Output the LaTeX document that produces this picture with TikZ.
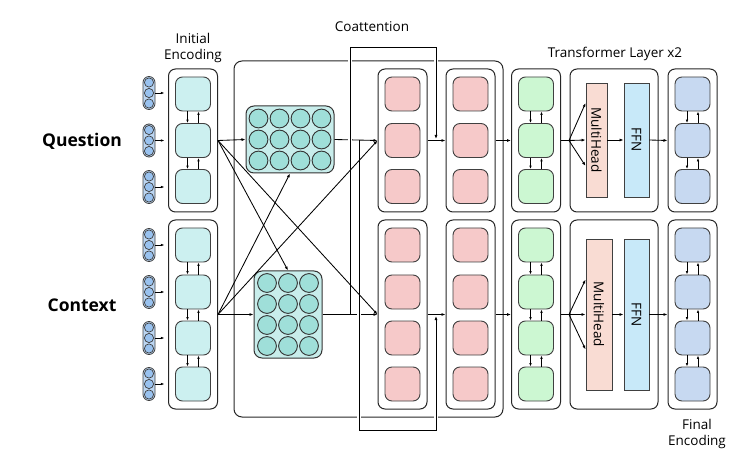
\documentclass[tikz,border=0pt]{standalone}
\usepackage{fontspec}
\setmainfont{Open Sans}
\usetikzlibrary{arrows.meta,calc}
\definecolor{cyanc}{HTML}{CCF0F0}
\definecolor{pinkc}{HTML}{F6C9C9}
\definecolor{greenc}{HTML}{CCF7D2}
\definecolor{bluec}{HTML}{C7D9F1}
\definecolor{attbox}{HTML}{C8EDEB}
\definecolor{attcirc}{HTML}{9FDFD9}
\definecolor{mhc}{HTML}{F9DCD3}
\definecolor{ffnc}{HTML}{C8E9F9}
\definecolor{pillc}{HTML}{BCD6F2}
\definecolor{pillcirc}{HTML}{99C2EF}
\begin{document}
\begin{tikzpicture}[x=1pt,y=-1pt,
  every node/.style={font=\fontsize{13.5}{16}\selectfont},
  cont/.style={draw=black!85, line width=1pt, rounded corners=7pt, minimum width=49pt, inner sep=0pt},
  cell/.style={draw=black!75, line width=0.9pt, rounded corners=7pt, minimum width=35pt, minimum height=34pt, inner sep=0pt},
  pill/.style={draw=black!75, line width=0.8pt, rounded corners=6pt, fill=pillc, minimum width=12pt, minimum height=33pt, inner sep=0pt},
  attn/.style={draw=black!80, line width=1pt, rounded corners=8pt, fill=attbox, inner sep=0pt},
  bar/.style={draw=black!75, line width=0.9pt, inner sep=0pt},
  arr/.style={-{Latex[length=4pt,width=3pt]}, line width=0.85pt},
  sarr/.style={-{Latex[length=3.5pt,width=2.6pt]}, line width=0.8pt},
  halo/.style={preaction={draw=white, line width=3.2pt, arrows=-, shorten <=1.5pt, shorten >=3pt}},
  lbl/.style={align=center, inner sep=0pt}
]
\useasboundingbox (0,0) rectangle (752,462);

% big coattention box
\node[draw=black!85, line width=1pt, rounded corners=8pt, minimum width=269pt, minimum height=356pt, inner sep=0pt] (bigbox) at (368.5,239) {};

% columns
\foreach \col/\x/\fc in {init/193/cyanc, coa/402.5/pinkc, cob/470.5/pinkc, tr/536/greenc, fin/692.5/bluec} {
  \node[cont, minimum height=143pt] (\col-q) at (\x,140.5) {};
  \node[cont, minimum height=189pt] (\col-c) at (\x,314.5) {};
  \foreach \i/\y in {1/94,2/140.5,3/186.5}
    \node[cell, fill=\fc] (\col-q\i) at (\x,\y) {};
  \foreach \i/\y in {1/245,2/292,3/338,4/384}
    \node[cell, fill=\fc] (\col-c\i) at (\x,\y) {};
}
% small vertical arrows
\foreach \col in {init,tr,fin} {
  \foreach \a/\b in {q1/q2,q2/q3,c1/c2,c2/c3,c3/c4} {
    \draw[sarr] ([xshift=-5.5pt]\col-\a.south) -- ([xshift=-5.5pt]\col-\b.north);
    \draw[sarr] ([xshift=5.5pt]\col-\b.north) -- ([xshift=5.5pt]\col-\a.south);
  }
}

% word-vector pills
\foreach \n/\y in {q1/93,q2/140.5,q3/187,c1/245,c2/292,c3/338,c4/384} {
  \node[pill] (p\n) at (149,\y) {};
  \foreach \d in {-10.5,0,10.5}
    \draw[draw=black!75, line width=0.7pt, fill=pillcirc] (149,\y+\d) circle (4.6);
  \draw[sarr] (p\n.east) -- ([xshift=9pt]p\n.east);
}

% attention matrices
\node[attn, minimum width=88pt, minimum height=67pt] (attq) at (290,139.5) {};
\foreach \dx in {-31.5,-10.5,10.5,31.5}
  \foreach \dy in {-21,0,21}
    \draw[draw=black!80, line width=0.9pt, fill=attcirc] (290+\dx,139.5+\dy) circle (9.4);
\node[attn, minimum width=68pt, minimum height=87pt] (attc) at (288,314.5) {};
\foreach \dx in {-21,0,21}
  \foreach \dy in {-31.5,-10.5,10.5,31.5}
    \draw[draw=black!80, line width=0.9pt, fill=attcirc] (288+\dx,314.5+\dy) circle (9.4);

% horizontal connectors
\draw[arr] (attq.east) -- (coa-q.west);
\draw[arr] (attc.east) -- (coa-c.west);
\draw[arr] (coa-q.east) -- (cob-q.west);
\draw[arr] (coa-c.east) -- (cob-c.west);
\draw[arr] (cob-q.east) -- (tr-q.west);
\draw[arr] (cob-c.east) -- (tr-c.west);

% coattention routing lines
\coordinate (ja) at (350,314.5);
\coordinate (ca1) at (350,47);
\coordinate (ca2) at (436,47);
\coordinate (ca3) at (436,139);
\coordinate (jb) at (359,140.5);
\coordinate (cb1) at (359,430);
\coordinate (cb2) at (436,430);
\coordinate (cb3) at (436,316);
\draw[arr, halo] (ja) -- (ca1) -- (ca2) -- (ca3);
\draw[arr, halo] (jb) -- (cb1) -- (cb2) -- (cb3);

% connectors from the initial encoding
\draw[arr] (init-q.east) -- (attq.west);
\draw[arr] (init-q.east) -- (attc.north);
\draw[arr] (init-q.east) -- (coa-c.west);
\draw[arr] (init-c.east) -- (attc.west);
\draw[arr] (init-c.east) -- (attq.south);
\draw[arr] (init-c.east) -- (coa-q.west);

% transformer middle blocks
\node[cont, minimum width=88pt, minimum height=143pt] (mid-q) at (614,140.5) {};
\node[cont, minimum width=88pt, minimum height=189pt] (mid-c) at (614,314.5) {};
\node[bar, fill=mhc, minimum width=21pt, minimum height=114pt] (mhq) at (596.5,140) {\rotatebox{-90}{MultiHead}};
\node[bar, fill=ffnc, minimum width=25pt, minimum height=114pt] (ffnq) at (636.5,140) {\rotatebox{-90}{FFN}};
\node[bar, fill=mhc, minimum width=26pt, minimum height=151pt] (mhc) at (599,314.5) {\rotatebox{-90}{MultiHead}};
\node[bar, fill=ffnc, minimum width=25pt, minimum height=151pt] (ffnc) at (636.5,314.5) {\rotatebox{-90}{FFN}};

\coordinate (fq) at (569,140.5);
\coordinate (fc) at (569,314.5);
\draw[line width=0.85pt] (tr-q.east) -- (fq);
\draw[arr] (fq) -- ($(mhq.west)+(0,-37)$);
\draw[arr] (fq) -- (mhq.west);
\draw[arr] (fq) -- ($(mhq.west)+(0,26)$);
\draw[line width=0.85pt] (tr-c.east) -- (fc);
\draw[arr] (fc) -- ($(mhc.west)+(0,-35)$);
\draw[arr] (fc) -- (mhc.west);
\draw[arr] (fc) -- ($(mhc.west)+(0,35)$);
\draw[arr] (mhq.east) -- (ffnq.west);
\draw[arr] (mhc.east) -- (ffnc.west);
\draw[arr] (ffnq.east) -- (fin-q.west);
\draw[arr] (ffnc.east) -- (fin-c.west);

% labels
\node[lbl] (linit) at (193,48) {Initial\\Encoding};
\node[lbl] (lcoatt) at (372,27) {Coattention};
\node[lbl] (ltrans) at (615,54) {Transformer Layer x2};
\node[lbl] (lfinal) at (697,434) {Final\\Encoding};
\node[lbl, font=\fontsize{17.5}{20}\selectfont\bfseries] (lq) at (82,141) {Question};
\node[lbl, font=\fontsize{17.5}{20}\selectfont\bfseries] (lc) at (82,305) {Context};
\end{tikzpicture}
\end{document}
